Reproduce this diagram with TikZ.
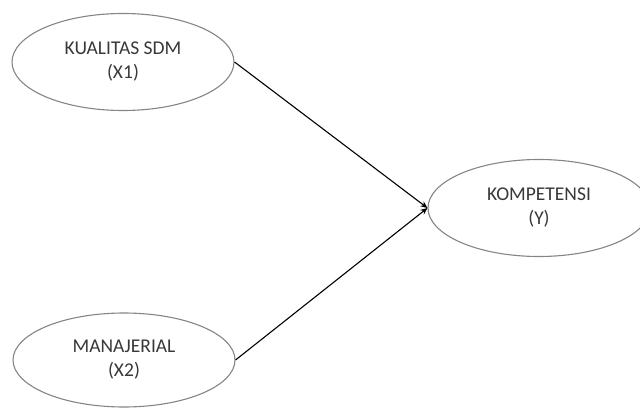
\documentclass[tikz,border=0pt]{standalone}
\usepackage{fontspec}
\setmainfont{Carlito}
\usetikzlibrary{arrows.meta,shapes.geometric}
\definecolor{rim}{HTML}{858585}
\definecolor{ink}{HTML}{383838}
\tikzset{
  var/.style={ellipse,draw=rim,line width=1.1pt,inner sep=0pt,text=ink,align=center,
    minimum width=222pt,minimum height=97pt,
    font=\fontsize{19.5}{24}\selectfont},
  link/.style={draw=black,line width=1.1pt,-{Stealth[length=7pt,width=6pt]}}
}
\begin{document}
\begin{tikzpicture}[x=1pt,y=-1pt]
\useasboundingbox (0,0) rectangle (640,409);
\clip (0,0) rectangle (640,409);
\node[var] (x1) at (123,62) {KUALITAS SDM\\(X1)};
\node[var,minimum height=94pt] (x2) at (124,360) {MANAJERIAL\\(X2)};
\node[var] (y) at (539,208) {KOMPETENSI\\(Y)};
\draw[link] (x1.east) -- (y.west);
\draw[link] (x2.east) -- (y.west);
\end{tikzpicture}
\end{document}
